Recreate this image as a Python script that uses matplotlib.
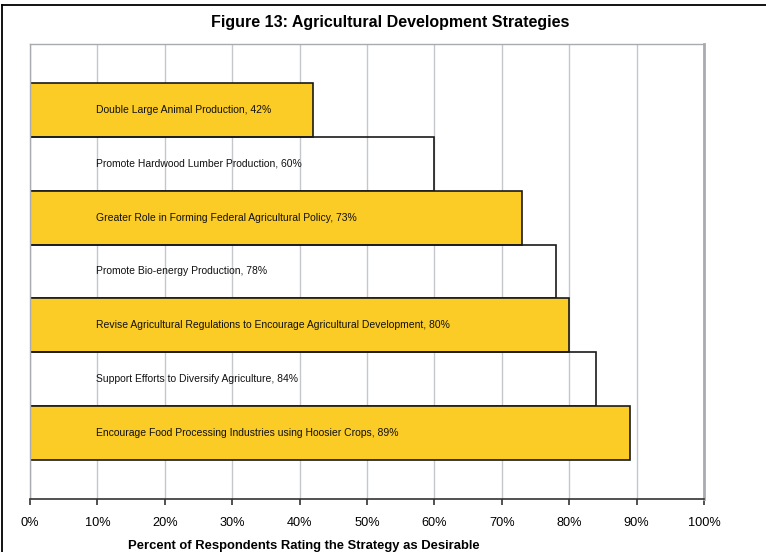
import matplotlib.pyplot as plt
from matplotlib.lines import Line2D

plt.rcParams['font.family'] = ['Liberation Sans', 'DejaVu Sans']

# Survey results, listed from top bar to bottom bar
strategies = [
    'Double Large Animal Production',
    'Promote Hardwood Lumber Production',
    'Greater Role in Forming Federal Agricultural Policy',
    'Promote Bio-energy Production',
    'Revise Agricultural Regulations to Encourage Agricultural Development',
    'Support Efforts to Diversify Agriculture',
    'Encourage Food Processing Industries using Hoosier Crops',
]
percents = [42, 60, 73, 78, 80, 84, 89]
x_ticks = [0, 10, 20, 30, 40, 50, 60, 70, 80, 90, 100]

gold = '#FBCB26'

fig = plt.figure(figsize=(7.66, 5.52), dpi=100)
ax = fig.add_axes([30 / 766, 1 - 499 / 552, 674 / 766, 455 / 552])

for i, (name, pct) in enumerate(zip(strategies, percents)):
    face = gold if i % 2 == 0 else 'none'
    ax.barh(i, pct, height=1.0, color=face, edgecolor='#1a1a1a',
            linewidth=1.2, zorder=2)
    ax.text(9.8, i, f'{name}, {pct}%', va='center', ha='left',
            fontsize=7.5, color='#111111', zorder=3)

ax.set_xlim(0, 100)
ax.set_ylim(7.222, -1.222)
ax.set_xticks(x_ticks)
ax.set_xticklabels([f'{t}%' for t in x_ticks], fontsize=9.2)
ax.set_yticks([])
ax.tick_params(axis='x', direction='out', length=4, width=1.2,
               color='#333333', pad=9)
ax.grid(axis='x', color='#C4C7CC', linewidth=1.0, zorder=0)
ax.set_axisbelow(True)

for side in ('top', 'left'):
    ax.spines[side].set_color('#A8ABB0')
    ax.spines[side].set_linewidth(1.0)
ax.spines['right'].set_color('#A8ABB0')
ax.spines['right'].set_linewidth(2.0)
ax.spines['bottom'].set_color('#333333')
ax.spines['bottom'].set_linewidth(1.2)

fig.text(390 / 766, 1 - 22 / 552, 'Figure 13: Agricultural Development Strategies',
         ha='center', va='center', fontsize=11.5, fontweight='bold')
fig.text(304 / 766, 1 - 546 / 552,
         'Percent of Respondents Rating the Strategy as Desirable',
         ha='center', va='center', fontsize=9.4, fontweight='bold')

# outer frame (left and top edges only)
fig.add_artist(Line2D([2 / 766, 2 / 766], [0, 1 - 5 / 552],
                      transform=fig.transFigure, color='black', linewidth=1.3))
fig.add_artist(Line2D([2 / 766, 1], [1 - 5 / 552, 1 - 5 / 552],
                      transform=fig.transFigure, color='black', linewidth=1.3))

fig.savefig('out.png', dpi=100)
